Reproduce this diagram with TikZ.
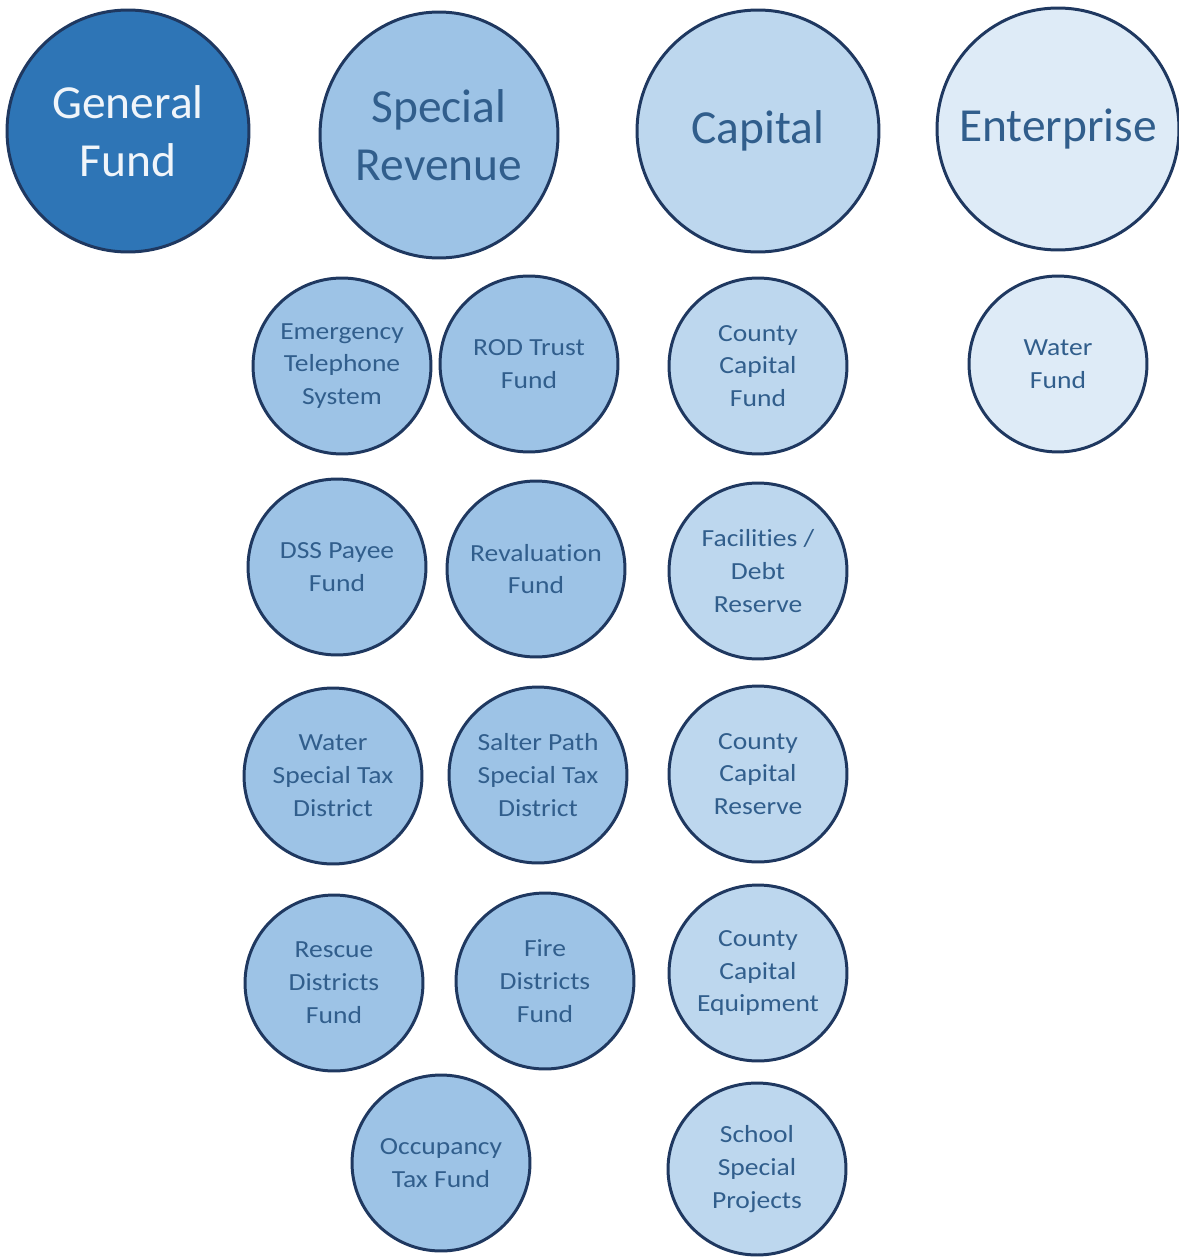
\documentclass[tikz,border=0pt]{standalone}
\usepackage{fontspec}
\setmainfont{Carlito}
\newfontfamily\subfont[FakeStretch=1.12,Ligatures=NoCommon]{Carlito}
\usepackage{tikz}
\usetikzlibrary{shapes.geometric}
\definecolor{rim}{RGB}{31,56,96}
\definecolor{gfblue}{RGB}{46,117,182}
\definecolor{srblue}{RGB}{157,195,230}
\definecolor{capblue}{RGB}{189,215,238}
\definecolor{entblue}{RGB}{222,235,247}
\definecolor{txtblue}{RGB}{49,94,140}
\tikzset{
  fund/.style={ellipse,draw=rim,line width=1.7pt,inner sep=0pt,align=center,text=txtblue},
  bigfund/.style={fund,minimum width=4.84cm,minimum height=4.84cm,font=\fontsize{27}{33}\selectfont},
  subfund/.style={fund,minimum width=3.56cm,minimum height=3.52cm,font=\subfont\fontsize{14}{18.7}\selectfont}
}

\begin{document}
\begin{tikzpicture}[x=0.02cm,y=-0.02cm]
                    \useasboundingbox (0,0) rectangle (1178,1257);
                    % fund types
                    \node[bigfund,fill=gfblue,text={rgb,255:red,240;green,245;blue,250}] (general) at (128,131) {General\\Fund};
                    \node[bigfund,fill=srblue,minimum width=4.76cm,minimum height=4.92cm] (special) at (439,135) {Special\\Revenue};
                    \node[bigfund,fill=capblue] (capital) at (758,131) {Capital};
                    \node[bigfund,fill=entblue] (enterprise) at (1058,129) {\raisebox{-3pt}{\makebox[0pt]{Enterprise}}};

                    % special revenue funds
                    \node[subfund,fill=srblue] (emergency) at (342,366) {Emergency\\Telephone\\System};
                    \node[subfund,fill=srblue] (rod) at (529,364) {ROD Trust\\Fund};
                    \node[subfund,fill=srblue] (dss) at (337,567) {DSS Payee\\Fund};
                    \node[subfund,fill=srblue] (revaluation) at (536,569) {\makebox[0pt]{Revaluation}\\Fund};
                    \node[subfund,fill=srblue] (waterdist) at (333,776) {Water\\Special Tax\\District};
                    \node[subfund,fill=srblue] (salter) at (538,775) {Salter Path\\Special Tax\\District};
                    \node[subfund,fill=srblue] (rescue) at (334,983) {Rescue\\Districts\\Fund};
                    \node[subfund,fill=srblue] (fire) at (545,981) {Fire\\Districts\\Fund};
                    \node[subfund,fill=srblue] (occupancy) at (441,1163) {Occupancy\\Tax Fund};

                    % capital funds
                    \node[subfund,fill=capblue] (ccfund) at (758,366) {County\\Capital\\Fund};
                    \node[subfund,fill=capblue] (facilities) at (758,571) {Facilities /\\Debt\\Reserve};
                    \node[subfund,fill=capblue] (ccreserve) at (758,774) {County\\Capital\\Reserve};
                    \node[subfund,fill=capblue] (ccequip) at (758,973) {County\\Capital\\Equipment};
                    \node[subfund,fill=capblue,minimum height=3.44cm] (school) at (757,1169) {School\\Special\\Projects};

                    % enterprise funds
                    \node[subfund,fill=entblue] (waterfund) at (1058,364) {Water\\Fund};
                \end{tikzpicture}
\end{document}
